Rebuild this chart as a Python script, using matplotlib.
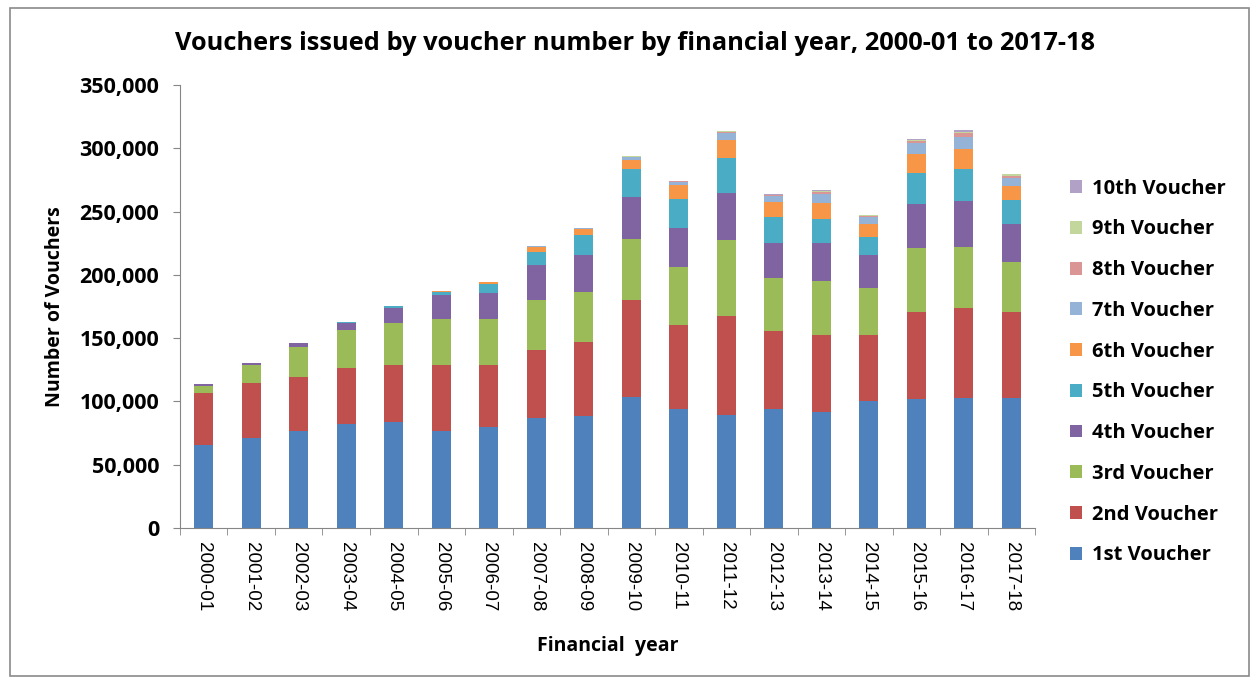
import numpy as np
import matplotlib
matplotlib.use("Agg")
import matplotlib.pyplot as plt
from matplotlib.patches import Rectangle
from matplotlib.ticker import FuncFormatter, FixedLocator

years = ["2000-01", "2001-02", "2002-03", "2003-04", "2004-05", "2005-06",
         "2006-07", "2007-08", "2008-09", "2009-10", "2010-11", "2011-12",
         "2012-13", "2013-14", "2014-15", "2015-16", "2016-17", "2017-18"]

series_names = ["1st Voucher", "2nd Voucher", "3rd Voucher", "4th Voucher",
                "5th Voucher", "6th Voucher", "7th Voucher", "8th Voucher",
                "9th Voucher", "10th Voucher"]

v1 = [65600, 71000, 76600, 82000, 83700, 76600, 79800, 86900, 88500, 103500,
      94000, 89300, 94000, 91600, 100300, 101900, 102700, 102700]
v2 = [41000, 43500, 42700, 44400, 45000, 52200, 49000, 53700, 58500, 76500,
      66400, 78200, 61600, 60900, 52200, 68700, 71100, 67900]
v3 = [5500, 14300, 23700, 30000, 33200, 36300, 36300, 39500, 39500, 48300,
      45800, 60000, 41900, 42600, 37100, 50600, 48200, 39500]
v4 = [1500, 1600, 3000, 5600, 11800, 19000, 20500, 27700, 29200, 33200,
      30800, 37100, 27500, 30000, 26100, 34800, 36300, 30100]
v5 = [0, 0, 500, 500, 1600, 2400, 7200, 10300, 15800, 22100,
      23000, 27700, 20700, 19000, 14300, 24500, 25300, 18900]
v6 = [0, 0, 0, 0, 200, 500, 1500, 4000, 4700, 7100,
      11000, 14200, 11800, 12700, 10000, 15000, 15800, 11100]
v7 = [0, 0, 0, 0, 0, 100, 300, 800, 800, 2300,
      2300, 5500, 4800, 7100, 5700, 8500, 9500, 6300]
v8 = [0, 0, 0, 0, 0, 0, 0, 200, 200, 500,
      700, 1000, 700, 1500, 900, 1700, 3100, 2000]
v9 = [0, 0, 0, 0, 0, 0, 0, 0, 0, 200,
      300, 500, 400, 600, 400, 800, 1200, 800]
v10 = [0, 0, 0, 0, 0, 0, 0, 0, 0, 100,
       200, 500, 300, 700, 500, 800, 1300, 700]

colors = ["#4F81BD", "#C0504D", "#9BBB59", "#8064A2", "#4BACC6",
          "#F79646", "#95B3D7", "#D99694", "#C3D69B", "#B2A1C7"]

bold_font = ["Open Sans", "DejaVu Sans"]

fig = plt.figure(figsize=(12.54, 6.8), dpi=100)
fig.patches.append(Rectangle((0.008, 0.006), 0.988, 0.982, transform=fig.transFigure,
                             fill=False, edgecolor="#8a8a8a", linewidth=1.2))

ax = fig.add_axes([0.1435, 0.2235, 0.682, 0.6515])
x = np.arange(len(years))
bottom = np.zeros(len(years))
handles = []
for name, vals, c in zip(series_names, [v1, v2, v3, v4, v5, v6, v7, v8, v9, v10], colors):
    vals = np.array(vals, dtype=float)
    b = ax.bar(x, vals, width=0.4, bottom=bottom, color=c, label=name, linewidth=0)
    handles.append(b)
    bottom += vals

ax.set_xlim(-0.5, len(years) - 0.5)
ax.set_ylim(0, 350000)
ax.set_yticks(np.arange(0, 350001, 50000))
ax.yaxis.set_major_formatter(FuncFormatter(lambda v, p: f"{int(v):,}"))

# category labels centred under bars, tick marks on the boundaries
ax.set_xticks(x)
ax.set_xticklabels(years, rotation=-90, fontsize=13.5, family=["Liberation Sans"])
ax.xaxis.set_minor_locator(FixedLocator(np.arange(-0.5, len(years), 1)))
ax.tick_params(axis="x", which="major", length=0, pad=10)
ax.tick_params(axis="x", which="minor", length=5, color="#868686", direction="out")
ax.tick_params(axis="y", length=5, color="#868686", pad=10)
for lab in ax.get_yticklabels():
    lab.set_fontsize(15.5)
    lab.set_fontweight("bold")
    lab.set_family(bold_font)

for s in ["top", "right"]:
    ax.spines[s].set_visible(False)
for s in ["left", "bottom"]:
    ax.spines[s].set_color("#868686")

ax.set_ylabel("Number of Vouchers", fontsize=14, fontweight="bold", family=bold_font, labelpad=10)
ax.set_xlabel("Financial  year", fontsize=14, fontweight="bold", family=bold_font, labelpad=18)
fig.text(0.506, 0.936, "Vouchers issued by voucher number by financial year, 2000-01 to 2017-18",
         ha="center", va="center", fontsize=18.3, fontweight="bold", family=bold_font)

leg = ax.legend(handles[::-1], series_names[::-1], loc="center left",
                bbox_to_anchor=(1.02, 0.352), frameon=False, handlelength=0.6,
                handleheight=0.6, handletextpad=0.45, labelspacing=1.03,
                prop={"family": bold_font, "weight": "bold", "size": 14.5})

fig.savefig("out.png", dpi=100)
